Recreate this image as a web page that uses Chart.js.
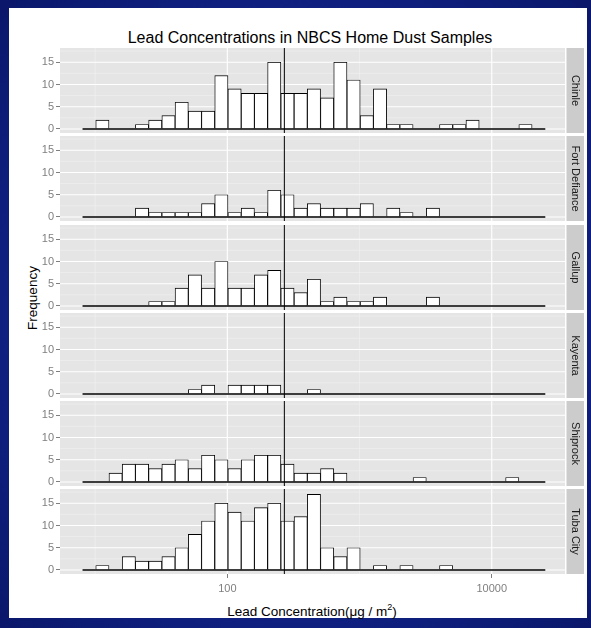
<!DOCTYPE html>
<html>
<head>
<meta charset="utf-8">
<title>Lead Concentrations in NBCS Home Dust Samples</title>
<script src="https://cdn.jsdelivr.net/npm/chart.js@4"></script>
<style>
  html, body { margin: 0; padding: 0; }
  body {
    width: 591px; height: 628px; overflow: hidden; position: relative;
    background: radial-gradient(ellipse at 50% 50%, #1c31a8 0%, #12258e 50%, #0a176a 100%);
    font-family: "Liberation Sans", Arial, sans-serif;
  }
  #sheet { position: absolute; left: 9px; top: 8px; width: 578px; height: 610px; background: #fff; }
  canvas.panel { position: absolute; left: 22px; }
  #title { position: absolute; left: 0; top: 29px; width: 620px; text-align: center; font-size: 16px; color: #000; }
  #ylab { position: absolute; left: 32px; top: 298px; font-size: 13.5px; color: #000;
          transform: translate(-50%, -50%) rotate(-90deg); white-space: nowrap; }
  #xlab { position: absolute; left: 0; top: 602px; width: 624px; text-align: center; font-size: 13.5px; color: #000; }
  #xlab sup { font-size: 9px; }
</style>
</head>
<body>
<div id="sheet"></div>
<div id="title">Lead Concentrations in NBCS Home Dust Samples</div>
<div id="ylab">Frequency</div>
<div id="xlab">Lead Concentration(&mu;g / m<sup>2</sup>)</div>

<script>
// facets (sites), one histogram each
const sites = ['Chinle', 'Fort Defiance', 'Gallup', 'Kayenta', 'Shiprock', 'Tuba City'];

// histogram bins on log10(concentration), 35 bins of 0.1
const binStart = 0.905;
const binWidth = 0.1;

// counts per bin
const chinle       = [0,2,0,0,1,2,3,6,4,4,12,9,8,8,15,8,8,9,7,15,11,3,9,1,1,0,0,1,1,2,0,0,0,1,0];
const fortDefiance = [0,0,0,0,2,1,1,1,1,3,5,1,2,1,6,5,2,3,2,2,2,3,0,2,1,0,2,0,0,0,0,0,0,0,0];
const gallup       = [0,0,0,0,0,1,1,4,7,4,10,4,4,7,8,4,3,6,1,2,1,1,2,0,0,0,2,0,0,0,0,0,0,0,0];
const kayenta      = [0,0,0,0,0,0,0,0,1,2,0,2,2,2,2,0,0,1,0,0,0,0,0,0,0,0,0,0,0,0,0,0,0,0,0];
const shiprock     = [0,0,2,4,4,3,4,5,3,6,5,3,5,6,6,4,2,2,3,2,0,0,0,0,0,1,0,0,0,0,0,0,1,0,0];
const tubaCity     = [0,1,0,3,2,2,3,5,8,11,15,13,11,14,15,11,12,17,5,3,5,0,1,0,1,0,0,1,0,0,0,0,0,0,0];
const siteCounts = [chinle, fortDefiance, gallup, kayenta, shiprock, tubaCity];

// reference line (ug/m2)
const refLevel = 270;

// axes
const xTicks = [2, 4];               // log10 positions
const xTickLabels = ['100', '10000'];
const xMinor = [1, 3];
const yTicks = [0, 5, 10, 15];
const yMinor = [2.5, 7.5, 12.5, 17.5];
const xMin = 0.7345, xMax = 4.554;
const yMin = -0.9, yMax = 18.2;

Chart.defaults.font.family = '"Liberation Sans", Arial, sans-serif';

const binCenters = chinle.map((_, k) => binStart + (k + 0.5) * binWidth);
const binEnd = binStart + chinle.length * binWidth;

const panelBg = {
    id: 'panelBg',
    beforeDatasetsDraw(chart, args, opts) {
        const ctx = chart.ctx;
        const a = chart.chartArea;
        const x = chart.scales.x, y = chart.scales.y;
        ctx.save();
        ctx.fillStyle = '#e5e5e5';
        ctx.fillRect(a.left, a.top, a.width, a.height);

        const hline = (v) => { const p = y.getPixelForValue(v); ctx.beginPath(); ctx.moveTo(a.left, p); ctx.lineTo(a.right, p); ctx.stroke(); };
        const vline = (v) => { const p = x.getPixelForValue(v); ctx.beginPath(); ctx.moveTo(p, a.top); ctx.lineTo(p, a.bottom); ctx.stroke(); };

        ctx.strokeStyle = '#f2f2f2';
        ctx.lineWidth = 0.6;
        yMinor.forEach(hline);
        xMinor.forEach(vline);
        ctx.strokeStyle = '#ffffff';
        ctx.lineWidth = 1.1;
        yTicks.forEach(hline);
        xTicks.forEach(vline);

        // facet strip on the right
        const sx = a.right + 1.5, sw = 17.5;
        ctx.fillStyle = '#cccccc';
        ctx.fillRect(sx, a.top, sw, a.height);
        ctx.translate(sx + sw / 2, (a.top + a.bottom) / 2);
        ctx.rotate(Math.PI / 2);
        ctx.fillStyle = '#1a1a1a';
        ctx.font = '11px "Liberation Sans", Arial, sans-serif';
        ctx.textAlign = 'center';
        ctx.textBaseline = 'middle';
        ctx.fillText(opts.name, 0, 0);
        ctx.restore();
    }
};

function drawPanel(i) {
    const isLast = i === sites.length - 1;
    const panelTop = 48 + 88.25 * i;
    const panelH = 85;
    const bottomArea = isLast ? 26 : 10;

    const el = document.createElement('canvas');
    el.className = 'panel';
    el.width = 569;
    el.height = 10 + panelH + bottomArea;
    el.style.top = (panelTop - 10) + 'px';
    document.body.appendChild(el);

    const tickGrid = {
        display: true,
        offset: false,
        drawOnChartArea: false,
        drawTicks: true,
        tickLength: 4,
        tickColor: '#7f7f7f'
    };

    const config = {
        type: 'bar',
        data: {
            datasets: [{
                type: 'bar',
                data: binCenters.map((c, k) => ({ x: c, y: siteCounts[i][k] })),
                backgroundColor: '#ffffff',
                borderColor: '#000000',
                borderWidth: 0.9,
                borderSkipped: 'start',
                barPercentage: 1,
                categoryPercentage: 1,
                order: 3
            }, {
                type: 'line',
                data: [{ x: binStart, y: 0 }, { x: binEnd, y: 0 }],
                borderColor: '#000000',
                borderWidth: 1.4,
                pointRadius: 0,
                order: 2
            }, {
                type: 'line',
                data: [{ x: Math.log10(refLevel), y: yMin }, { x: Math.log10(refLevel), y: yMax }],
                borderColor: '#000000',
                borderWidth: 1,
                pointRadius: 0,
                order: 1
            }]
        },
        options: {
            responsive: false,
            animation: false,
            devicePixelRatio: 1,
            layout: {
                padding: { left: 0, right: 26, top: 10, bottom: isLast ? 0 : 10 }
            },
            scales: {
                x: {
                    type: 'linear',
                    min: xMin,
                    max: xMax,
                    offset: false,
                    display: isLast,
                    afterBuildTicks: (s) => { s.ticks = xTicks.map(v => ({ value: v })); },
                    afterFit: (s) => { s.height = isLast ? 26 : 0; },
                    ticks: {
                        autoSkip: false,
                        maxRotation: 0,
                        padding: 4,
                        color: '#7f7f7f',
                        font: { size: 11 },
                        callback: (value, index) => xTickLabels[index]
                    },
                    grid: tickGrid,
                    border: { display: false }
                },
                y: {
                    min: yMin,
                    max: yMax,
                    afterBuildTicks: (s) => { s.ticks = yTicks.map(v => ({ value: v })); },
                    afterFit: (s) => { s.width = 38; },
                    ticks: {
                        padding: 2,
                        color: '#7f7f7f',
                        font: { size: 11 }
                    },
                    grid: tickGrid,
                    border: { display: false }
                }
            },
            plugins: {
                legend: { display: false },
                tooltip: { enabled: false },
                panelBg: { name: sites[i] }
            }
        },
        plugins: [panelBg]
    };

    new Chart(el, config);
}

sites.forEach((s, i) => drawPanel(i));
</script>
</body>
</html>
